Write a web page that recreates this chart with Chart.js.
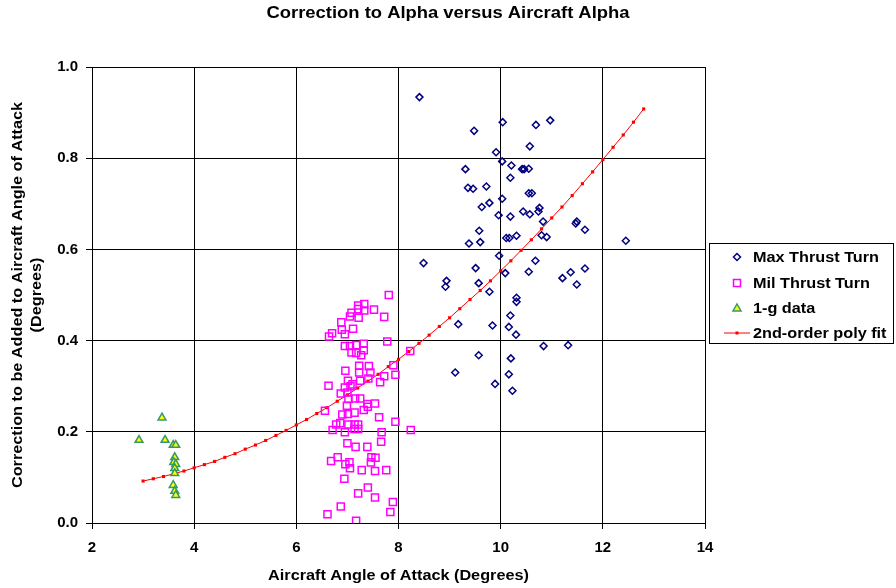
<!DOCTYPE html>
<html>
<head>
<meta charset="utf-8">
<script src="https://cdn.jsdelivr.net/npm/chart.js@4"></script>
<style>
  body { margin: 0; background: #fff; }
  #wrap { width: 896px; height: 588px; }
</style>
</head>
<body>
<div id="wrap"><canvas id="chart" width="896" height="588"></canvas></div>
<script>
const chartTitle = "Correction to Alpha versus Aircraft Alpha";
const xTitle = "Aircraft Angle of Attack (Degrees)";
const yTitle = ["Correction to be Added to Aircraft Angle of Attack", "(Degrees)"];
const seriesNames = ["Max Thrust Turn", "Mil Thrust Turn", "1-g data", "2nd-order poly fit"];

const xTicks = [2, 4, 6, 8, 10, 12, 14];
const yTicks = [0.0, 0.2, 0.4, 0.6, 0.8, 1.0];

const maxThrustX = [8.41, 9.48, 10.04, 10.69, 10.97, 10.57, 9.91, 10.03, 10.21, 10.42, 10.46, 10.55, 9.31, 10.19,
  9.36, 9.46, 9.72, 10.55, 10.61, 10.03, 9.78, 9.63, 10.76, 10.74, 10.44, 10.57, 9.96, 10.19, 10.83, 9.58,
  9.38, 9.60, 10.11, 10.17, 10.31, 10.80, 10.90, 11.49, 11.47, 11.65, 12.45, 9.97, 10.68, 9.51, 10.55,
  10.09, 8.94, 8.92, 9.57, 9.78, 10.31, 10.31, 10.19, 9.17, 9.84, 10.16, 10.30, 10.84, 9.57, 10.20, 9.11,
  10.16, 9.89, 10.23, 11.65, 11.37, 11.21, 11.49, 11.32, 8.49];
const maxThrustY = [0.934, 0.860, 0.879, 0.873, 0.883, 0.826, 0.813, 0.793, 0.784, 0.776, 0.776, 0.777, 0.776, 0.757,
  0.735, 0.733, 0.738, 0.723, 0.723, 0.711, 0.702, 0.693, 0.691, 0.683, 0.683, 0.677, 0.675, 0.672, 0.661, 0.641,
  0.613, 0.616, 0.625, 0.625, 0.630, 0.631, 0.627, 0.661, 0.657, 0.643, 0.619, 0.586, 0.575, 0.559, 0.551,
  0.548, 0.531, 0.518, 0.526, 0.507, 0.494, 0.485, 0.455, 0.436, 0.433, 0.430, 0.413, 0.388, 0.368, 0.361, 0.330,
  0.326, 0.305, 0.290, 0.558, 0.550, 0.537, 0.523, 0.390, 0.570];

const milThrustX = [7.81, 7.33, 7.21, 7.21, 7.33, 7.52, 7.08, 7.05, 7.22, 7.72, 6.88, 7.11, 6.89, 6.70, 6.64, 6.95,
  7.78, 6.95, 7.05, 7.17, 7.32, 7.08, 7.17, 7.32, 7.27, 8.23, 7.90, 7.23, 7.42, 6.96, 7.23, 7.45, 7.94, 7.72,
  7.01, 7.25, 7.41, 7.64, 7.10, 6.63, 6.95, 7.06, 6.87, 7.00, 7.15, 7.25, 7.02, 7.39, 7.54,
  6.56, 6.90, 6.99, 7.14, 7.01, 7.32, 7.40, 7.62, 7.94, 8.24, 6.78, 6.86, 7.02, 7.14, 7.21, 7.14, 7.21, 6.71,
  6.95, 7.67, 7.00, 7.16, 7.39, 7.66, 6.68, 6.81, 6.96, 7.04, 7.05, 7.47, 7.55, 7.46, 7.28, 7.54, 7.76, 6.94,
  7.40, 7.21, 7.54, 7.89, 6.87, 7.84, 6.61, 7.17];
const milThrustY = [0.500, 0.480, 0.477, 0.469, 0.466, 0.468, 0.461, 0.453, 0.450, 0.452, 0.440, 0.426, 0.424, 0.416, 0.409, 0.414,
  0.398, 0.388, 0.388, 0.390, 0.393, 0.374, 0.373, 0.379, 0.368, 0.377, 0.346, 0.345, 0.344, 0.334, 0.330, 0.330, 0.325, 0.322,
  0.312, 0.312, 0.317, 0.309, 0.304, 0.301, 0.297, 0.300, 0.284, 0.286, 0.273, 0.273, 0.272, 0.261, 0.262,
  0.246, 0.238, 0.257, 0.242, 0.239, 0.248, 0.255, 0.232, 0.222, 0.204, 0.216, 0.219, 0.216, 0.216, 0.216, 0.206, 0.206, 0.204,
  0.199, 0.199, 0.175, 0.167, 0.167, 0.178, 0.136, 0.144, 0.129, 0.133, 0.120, 0.144, 0.143, 0.133, 0.116, 0.114, 0.116, 0.097,
  0.078, 0.065, 0.056, 0.046, 0.036, 0.024, 0.019, 0.005];

const oneGX = [3.37, 2.92, 3.43, 3.59, 3.64, 3.62, 3.60, 3.64, 3.62, 3.62, 3.59, 3.62, 3.64];
const oneGY = [0.231, 0.182, 0.182, 0.171, 0.171, 0.144, 0.133, 0.129, 0.120, 0.109, 0.083, 0.070, 0.061];

const fitX = [3.0, 3.2, 3.4, 3.6, 3.8, 4.0, 4.2, 4.4, 4.6, 4.8, 5.0, 5.2, 5.4, 5.6, 5.8, 6.0, 6.2, 6.4, 6.6, 6.8,
  7.0, 7.2, 7.4, 7.6, 7.8, 8.0, 8.2, 8.4, 8.6, 8.8, 9.0, 9.2, 9.4, 9.6, 9.8, 10.0, 10.2, 10.4, 10.6, 10.8,
  11.0, 11.2, 11.4, 11.6, 11.8, 12.0, 12.2, 12.4, 12.6, 12.8];
const fitY = [0.092, 0.097, 0.102, 0.108, 0.114, 0.121, 0.128, 0.135, 0.144, 0.152, 0.162, 0.171, 0.181, 0.192, 0.203,
  0.215, 0.227, 0.240, 0.253, 0.267, 0.281, 0.296, 0.311, 0.326, 0.343, 0.359, 0.376, 0.394, 0.412, 0.431,
  0.450, 0.470, 0.490, 0.510, 0.531, 0.553, 0.575, 0.598, 0.621, 0.645, 0.669, 0.693, 0.718, 0.744, 0.770,
  0.797, 0.824, 0.851, 0.879, 0.908];

function toPoints(xs, ys) {
    return xs.map((x, i) => ({ x: x, y: ys[i] }));
}

const fontFamily = "'Liberation Sans', Arial, sans-serif";
const boldFont = "bold 14px " + fontFamily;

// the original text is a bit wider than it is tall, so stretch it sideways
function wideText(ctx, text, x, y, sx) {
    ctx.save();
    ctx.translate(x, y);
    ctx.scale(sx, 1);
    ctx.fillText(text, 0, 0);
    ctx.restore();
}

// legend marker drawing, same look as the series
function drawMarker(ctx, kind, x, y) {
    ctx.save();
    if (kind === 0) {
        ctx.strokeStyle = "#000080"; ctx.lineWidth = 1.5;
        ctx.beginPath();
        ctx.moveTo(x - 3.5, y); ctx.lineTo(x, y - 3.5); ctx.lineTo(x + 3.5, y); ctx.lineTo(x, y + 3.5);
        ctx.closePath(); ctx.stroke();
    } else if (kind === 1) {
        ctx.strokeStyle = "#FF00FF"; ctx.lineWidth = 1.5;
        ctx.strokeRect(x - 3.5, y - 3.5, 7, 7);
    } else if (kind === 2) {
        ctx.fillStyle = "#FFFF00"; ctx.strokeStyle = "#339966"; ctx.lineWidth = 1.5;
        ctx.beginPath();
        ctx.moveTo(x, y - 4); ctx.lineTo(x + 4, y + 3); ctx.lineTo(x - 4, y + 3);
        ctx.closePath(); ctx.fill(); ctx.stroke();
    } else {
        ctx.strokeStyle = "#FF0000"; ctx.lineWidth = 1;
        ctx.beginPath(); ctx.moveTo(x - 13, y); ctx.lineTo(x + 13, y); ctx.stroke();
        ctx.fillStyle = "#FF0000";
        ctx.fillRect(x - 1.5, y - 1.5, 3, 3);
    }
    ctx.restore();
}

const decorPlugin = {
    id: "decor",
    afterDraw(chart) {
        let ctx = chart.ctx;
        let area = chart.chartArea;
        ctx.save();
        ctx.fillStyle = "#000";
        ctx.textBaseline = "middle";

        ctx.font = "bold 16px " + fontFamily;
        ctx.textAlign = "center";
        wideText(ctx, chartTitle, 448, 14, 1.15);

        ctx.font = boldFont;
        wideText(ctx, xTitle, (area.left + area.right) / 2, 576, 1.16);

        ctx.save();
        ctx.translate(18, (area.top + area.bottom) / 2);
        ctx.rotate(-Math.PI / 2);
        wideText(ctx, yTitle[0], 0, 0, 1.16);
        wideText(ctx, yTitle[1], 0, 19, 1.16);
        ctx.restore();

        // legend box
        ctx.fillStyle = "#fff";
        ctx.fillRect(709.5, 243.5, 184, 100);
        ctx.strokeStyle = "#000";
        ctx.lineWidth = 1;
        ctx.strokeRect(709.5, 243.5, 184, 100);

        let rows = [257, 283, 308, 333];
        ctx.textAlign = "left";
        ctx.font = boldFont;
        seriesNames.forEach((name, i) => {
            drawMarker(ctx, i, 737, rows[i]);
            ctx.fillStyle = "#000";
            wideText(ctx, name, 753, rows[i] + 1, 1.16);
        });
        ctx.restore();
    }
};

let ctx = document.getElementById("chart").getContext("2d");

let chart = new Chart(ctx, {
    type: "scatter",
    data: {
        datasets: [
            {
                label: seriesNames[0],
                data: toPoints(maxThrustX, maxThrustY),
                pointStyle: "rectRot",
                radius: 3.5,
                borderWidth: 1.5,
                borderColor: "#000080",
                backgroundColor: "rgba(0,0,0,0)"
            },
            {
                label: seriesNames[1],
                data: toPoints(milThrustX, milThrustY),
                pointStyle: "rect",
                radius: 5,
                borderWidth: 1.5,
                borderColor: "#FF00FF",
                backgroundColor: "rgba(0,0,0,0)"
            },
            {
                label: seriesNames[2],
                data: toPoints(oneGX, oneGY),
                pointStyle: "triangle",
                radius: 4.5,
                borderWidth: 1.5,
                borderColor: "#339966",
                backgroundColor: "#FFFF00"
            },
            {
                label: seriesNames[3],
                data: toPoints(fitX, fitY),
                showLine: true,
                borderColor: "#FF0000",
                borderWidth: 1,
                backgroundColor: "#FF0000",
                pointStyle: "rect",
                radius: 2.2,
                pointBorderWidth: 0
            }
        ]
    },
    options: {
        responsive: false,
        animation: false,
        devicePixelRatio: 1,
        layout: { padding: { top: 67, right: 191, left: 0, bottom: 0 } },
        plugins: {
            legend: { display: false },
            title: { display: false },
            tooltip: { enabled: false }
        },
        scales: {
            x: {
                type: "linear",
                min: xTicks[0],
                max: xTicks[xTicks.length - 1],
                afterBuildTicks: (s) => { s.ticks = xTicks.map(v => ({ value: v })); },
                afterFit: (s) => { s.height = 65; },
                grid: { color: "#000", lineWidth: 1, tickLength: 6, tickColor: "#000" },
                border: { color: "#000", width: 1 },
                ticks: {
                    color: "#000",
                    padding: 10,
                    font: { family: fontFamily, size: 15, weight: "bold" }
                }
            },
            y: {
                type: "linear",
                min: yTicks[0],
                max: yTicks[yTicks.length - 1],
                afterBuildTicks: (s) => { s.ticks = yTicks.map(v => ({ value: v })); },
                afterFit: (s) => { s.width = 92; },
                grid: { color: "#000", lineWidth: 1, tickLength: 6, tickColor: "#000" },
                border: { color: "#000", width: 1 },
                ticks: {
                    color: "#000",
                    padding: 8,
                    callback: (v) => Number(v).toFixed(1),
                    font: { family: fontFamily, size: 15, weight: "bold" }
                }
            }
        }
    },
    plugins: [decorPlugin]
});
</script>
</body>
</html>
